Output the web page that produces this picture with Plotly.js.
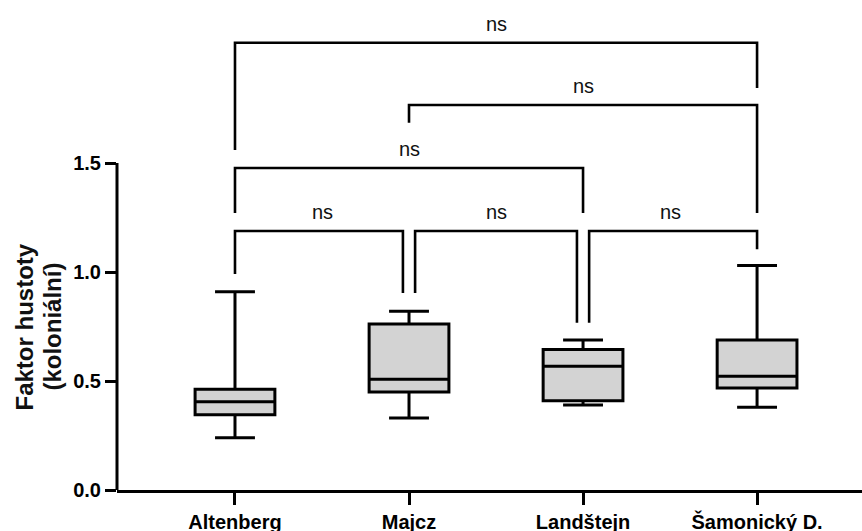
<!DOCTYPE html>
<html>
<head>
<meta charset="utf-8">
<script src="https://cdn.plot.ly/plotly-3.0.1.min.js"></script>
<style>html,body{margin:0;padding:0;background:#fff;}#chart{width:862px;height:531px;}</style>
</head>
<body>
<div id="chart"></div>
<script>
// ---- data ----
var categories = ["Altenberg", "Majcz", "Landštejn", "Šamonický D."];
var lowerWhisker = [0.24, 0.33, 0.39, 0.38];
var q1Values     = [0.345, 0.45, 0.41, 0.468];
var medianValues = [0.405, 0.508, 0.568, 0.522];
var q3Values     = [0.462, 0.762, 0.645, 0.688];
var upperWhisker = [0.91, 0.82, 0.688, 1.03];

var yTickValues = [0, 0.5, 1.0, 1.5];
var yTickLabels = ["0.0", "0.5", "1.0", "1.5"];

// significance comparisons (group indices), bar level, leg ends, label
var compLeft     = [0, 1, 0, 0, 1, 2];
var compRight    = [3, 3, 2, 1, 2, 3];
var compBarY     = [2.052, 1.766, 1.477, 1.188, 1.188, 1.188];
var compLeftEnd  = [1.560, 1.685, 1.271, 0.991, 0.904, 0.767];
var compRightEnd = [1.844, 1.271, 1.271, 0.904, 0.767, 1.105];
var compLabel    = ["ns", "ns", "ns", "ns", "ns", "ns"];

var yTitleLines = ["Faktor hustoty", "(koloniální)"];

// ---- chart ----
var FONT = "Liberation Sans, Arial, Helvetica, sans-serif";

var trace = {
  type: "box",
  x: categories,
  q1: q1Values,
  median: medianValues,
  q3: q3Values,
  lowerfence: lowerWhisker,
  upperfence: upperWhisker,
  boxpoints: false,
  fillcolor: "#d3d3d3",
  line: { color: "#000", width: 3 },
  whiskerwidth: 0.5,
  showlegend: false,
  hoverinfo: "none"
};

var shapes = [];
var annotations = [];
var inset = 0.035;
var lw = 2.6;

// y axis line drawn only from 0 to the top tick
shapes.push({
  type: "line", xref: "paper", yref: "y",
  x0: 0, x1: 0, y0: 0, y1: yTickValues[yTickValues.length - 1],
  line: { color: "#000", width: 3 }
});

for (var i = 0; i < compLeft.length; i++) {
  var a = compLeft[i], b = compRight[i];
  var xa = a, xb = b;
  // inset where an adjacent bracket on the same level shares an endpoint
  for (var j = 0; j < compLeft.length; j++) {
    if (j === i || compBarY[j] !== compBarY[i]) continue;
    if (compRight[j] === a) xa = a + inset;
    if (compLeft[j] === b) xb = b - inset;
  }
  var yb = compBarY[i];
  shapes.push({
    type: "path", xref: "x", yref: "y",
    path: "M " + xa + " " + compLeftEnd[i] + " L " + xa + " " + yb +
          " L " + xb + " " + yb + " L " + xb + " " + compRightEnd[i],
    line: { color: "#000", width: lw }
  });
  annotations.push({
    xref: "x", yref: "y", x: (a + b) / 2, y: yb,
    text: compLabel[i], showarrow: false,
    xanchor: "center", yanchor: "middle", yshift: 19,
    font: { family: FONT, size: 20, color: "#111" }
  });
}

// two-line rotated y title, centred on the 0–1.5 axis span
var titleX = [-0.1235, -0.0872];
for (var k = 0; k < yTitleLines.length; k++) {
  annotations.push({
    xref: "paper", yref: "y", x: titleX[k], y: 0.75,
    text: yTitleLines[k], showarrow: false, textangle: -90,
    xanchor: "center", yanchor: "middle",
    font: { family: FONT, size: 24, color: "#111", weight: "bold" }
  });
}

var layout = {
  width: 862, height: 531,
  margin: { l: 117, r: 0, t: 0, b: 41 },
  paper_bgcolor: "#fff", plot_bgcolor: "#fff",
  boxgap: 0.345,
  xaxis: {
    type: "category",
    range: [-0.678, 3.603],
    showline: true, linecolor: "#000", linewidth: 3,
    ticks: "outside", ticklen: 12, tickwidth: 3, tickcolor: "#000",
    ticklabelstandoff: 0,
    showgrid: false, zeroline: false,
    tickfont: { family: FONT, size: 20, color: "#000", weight: "bold" }
  },
  yaxis: {
    range: [0, 2.248],
    tickvals: yTickValues, ticktext: yTickLabels,
    showline: false,
    ticks: "outside", ticklen: 11, tickwidth: 3, tickcolor: "#000",
    showgrid: false, zeroline: false,
    tickfont: { family: FONT, size: 20, color: "#000", weight: "bold" }
  },
  shapes: shapes,
  annotations: annotations
};

Plotly.newPlot("chart", [trace], layout, { displayModeBar: false, staticPlot: true });
</script>
</body>
</html>
